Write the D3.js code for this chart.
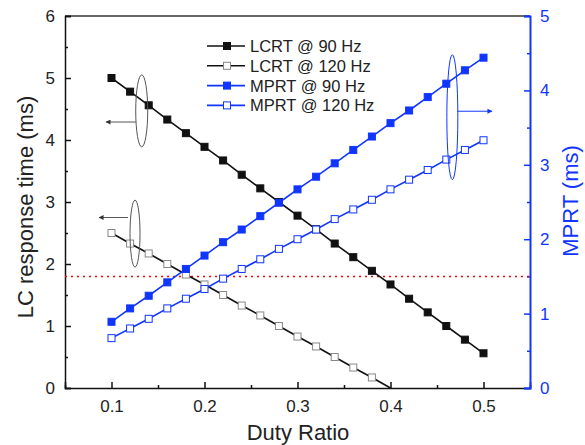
<!DOCTYPE html>
<meta charset="utf-8">
<style>
body { margin: 0; background: #fff; }
text { font-family: "Liberation Sans", Arial, sans-serif; }
</style>
<body>
<svg width="585" height="445"></svg>
<script src="https://cdn.jsdelivr.net/npm/d3@7"></script>
<script>
var duty = [0.10,0.12,0.14,0.16,0.18,0.20,0.22,0.24,0.26,0.28,0.30,0.32,0.34,0.36,0.38,0.40,0.42,0.44,0.46,0.48,0.50];
var lcrt90 = [5.00,4.78,4.56,4.33,4.11,3.89,3.67,3.44,3.22,3.00,2.78,2.56,2.33,2.11,1.89,1.67,1.44,1.22,1.00,0.78,0.56];
var lcrt120 = [2.50,2.33,2.17,2.00,1.83,1.67,1.50,1.33,1.17,1.00,0.83,0.67,0.50,0.33,0.17,0.00];
var mprt90 = [0.89,1.07,1.24,1.42,1.60,1.78,1.96,2.13,2.31,2.49,2.67,2.84,3.02,3.20,3.38,3.56,3.73,3.91,4.09,4.27,4.44];
var mprt120 = [0.67,0.80,0.93,1.07,1.20,1.33,1.47,1.60,1.73,1.87,2.00,2.13,2.27,2.40,2.53,2.67,2.80,2.93,3.07,3.20,3.33];
var xTicks = [0.1,0.2,0.3,0.4,0.5];
var leftTicks = [0,1,2,3,4,5,6];
var rightTicks = [0,1,2,3,4,5];
var refLine = 1.8;
var legendNames = ["LCRT @ 90 Hz","LCRT @ 120 Hz","MPRT @ 90 Hz","MPRT @ 120 Hz"];

var svg = d3.select("svg");
var L = 65, R = 530, T = 16, B = 388;
var blue = "#1035ff", black = "#111";

var x = d3.scaleLinear().domain([0.05, 0.55]).range([L, R]);
var yL = d3.scaleLinear().domain([0, 6]).range([B, T]);
var yR = d3.scaleLinear().domain([0, 5]).range([B, T]);

// top border
svg.append("line").attr("x1", L).attr("x2", R).attr("y1", T).attr("y2", T).attr("stroke", "#333").attr("stroke-width", 1.5);

// bottom axis
var gx = svg.append("g").attr("transform", "translate(0," + B + ")")
  .call(d3.axisBottom(x).tickValues(xTicks).tickSize(-6).tickPadding(12).tickFormat(d3.format(".1f")));
var gxm = svg.append("g").attr("transform", "translate(0," + B + ")")
  .call(d3.axisBottom(x).tickValues(d3.range(0.05, 0.551, 0.1)).tickSize(-3).tickFormat(""));

// left axis
var gl = svg.append("g").attr("transform", "translate(" + L + ",0)")
  .call(d3.axisLeft(yL).tickValues(leftTicks).tickSize(-6).tickPadding(10).tickFormat(d3.format("d")));
var glm = svg.append("g").attr("transform", "translate(" + L + ",0)")
  .call(d3.axisLeft(yL).tickValues(d3.range(0.5, 6, 1)).tickSize(-3).tickFormat(""));

// right axis
var gr = svg.append("g").attr("transform", "translate(" + R + ",0)")
  .call(d3.axisRight(yR).tickValues(rightTicks).tickSize(-6).tickPadding(10).tickFormat(d3.format("d")));
var grm = svg.append("g").attr("transform", "translate(" + R + ",0)")
  .call(d3.axisRight(yR).tickValues(d3.range(0.5, 5, 1)).tickSize(-3).tickFormat(""));

[gxm, glm, grm].forEach(g => g.select(".domain").remove());
[gx, gxm, gl, glm].forEach(function(g) {
  g.selectAll("path, line").attr("stroke", black).attr("stroke-width", 1.5);
  g.selectAll("text").attr("fill", "#222").style("font-size", "17px");
});
[gr, grm].forEach(function(g) {
  g.selectAll("path, line").attr("stroke", blue).attr("stroke-width", 1.5);
  g.selectAll("text").attr("fill", blue).style("font-size", "17px");
});
gr.select(".domain").attr("stroke-width", 2);

// axis titles
svg.append("text").attr("x", 298).attr("y", 440).attr("text-anchor", "middle")
  .style("font-size", "22px").attr("fill", "#222").text("Duty Ratio");
svg.append("text").attr("transform", "translate(33,207) rotate(-90)").attr("text-anchor", "middle")
  .style("font-size", "22px").attr("fill", "#222").text("LC response time (ms)");
svg.append("text").attr("transform", "translate(578,201) rotate(-90)").attr("text-anchor", "middle")
  .style("font-size", "22px").attr("fill", blue).text("MPRT (ms)");

// reference line
svg.append("line").attr("x1", L).attr("x2", R).attr("y1", yL(refLine)).attr("y2", yL(refLine))
  .attr("stroke", "#f00").attr("stroke-width", 1.5).attr("stroke-dasharray", "2,4");

// series
var series = [
  {v: lcrt90, y: yL, c: black, fill: black},
  {v: lcrt120, y: yL, c: black, fill: "#fff", mk: "#888"},
  {v: mprt90, y: yR, c: blue, fill: blue},
  {v: mprt120, y: yR, c: blue, fill: "#fff", mk: blue}
];
series.forEach(function(s) {
  var pts = s.v.map(function(v, i) { return [duty[i], v]; });
  svg.append("path").datum(pts).attr("fill", "none").attr("stroke", s.c).attr("stroke-width", 1.6)
    .attr("d", d3.line().x(d => x(d[0])).y(d => s.y(d[1])));
  svg.selectAll(null).data(pts.filter(d => d[1] > 0)).enter().append("rect")
    .attr("x", d => x(d[0]) - 3.5).attr("y", d => s.y(d[1]) - 3.5).attr("width", 7).attr("height", 7)
    .attr("fill", s.fill).attr("stroke", s.mk || s.c).attr("stroke-width", 1);
});

// ellipses and arrows
svg.append("defs").selectAll("marker").data([["ah", "#333"], ["ahb", blue]]).enter().append("marker")
  .attr("id", d => d[0]).attr("viewBox", "0 0 10 10").attr("refX", 9).attr("refY", 5)
  .attr("markerWidth", 7).attr("markerHeight", 5).attr("orient", "auto")
  .append("path").attr("d", "M0,0L10,5L0,10z").attr("fill", d => d[1]);
var notes = [
  {cx: 0.1325, cy: 4.47, rx: 6, ry: 36, c: "#555", ax1: 0.1263, ax2: 0.0941, ay: 4.29, yy: yL, m: "ah"},
  {cx: 0.1253, cy: 2.49, rx: 5, ry: 33.5, c: "#555", ax1: 0.1177, ax2: 0.0866, ay: 2.75, yy: yL, m: "ah"},
  {cx: 0.4665, cy: 3.64, rx: 5.5, ry: 62.5, c: blue, ax1: 0.472, ax2: 0.5091, ay: 3.72, yy: yR, m: "ahb"}
];
notes.forEach(function(n) {
  svg.append("ellipse").attr("cx", x(n.cx)).attr("cy", n.yy(n.cy)).attr("rx", n.rx).attr("ry", n.ry)
    .attr("fill", "none").attr("stroke", n.c).attr("stroke-width", 1);
  svg.append("line").attr("x1", x(n.ax1)).attr("x2", x(n.ax2)).attr("y1", n.yy(n.ay)).attr("y2", n.yy(n.ay))
    .attr("stroke", n.c).attr("stroke-width", 1).attr("marker-end", "url(#" + n.m + ")");
});

// legend
var lg = svg.append("g");
legendNames.forEach(function(name, i) {
  var s = series[i], yy = 46 + i * 19.8;
  lg.append("line").attr("x1", 207).attr("x2", 245).attr("y1", yy).attr("y2", yy).attr("stroke", s.c).attr("stroke-width", 1.6);
  lg.append("rect").attr("x", 223.5).attr("y", yy - 3.5).attr("width", 7).attr("height", 7)
    .attr("fill", s.fill).attr("stroke", s.mk || s.c);
  lg.append("text").attr("x", 250).attr("y", yy + 6).style("font-size", "16.5px").attr("fill", "#222").text(name);
});
</script>
</body>
